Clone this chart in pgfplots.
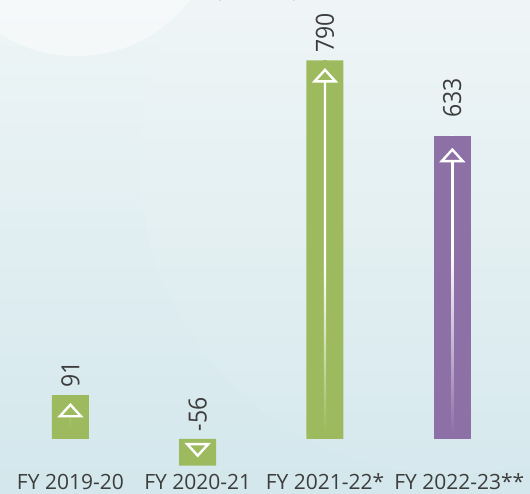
\documentclass[border=0pt]{standalone}
\usepackage{fontspec}
\setmainfont{Open Sans}
\usepackage{graphicx}
\usepackage{pgfplots}
\pgfplotsset{compat=1.18}
\definecolor{barG}{HTML}{9DBB5E}
\definecolor{barP}{HTML}{8D71A6}
\definecolor{txt}{HTML}{3D3D3D}
\definecolor{bgTop}{HTML}{EEF5F6}
\definecolor{bgBot}{HTML}{D3E7EC}
\pgfdeclareverticalshading{lineG}{100bp}{color(0bp)=(barG); color(26bp)=(barG); color(48bp)=(white); color(100bp)=(white)}
\pgfdeclareverticalshading{lineP}{100bp}{color(0bp)=(barP); color(26bp)=(barP); color(56bp)=(white); color(100bp)=(white)}
\pgfdeclareplotmark{nomark}{}
\pgfdeclareplotmark{upG}{%
  \pgfsetfillcolor{barG}%
  \pgfpathrectangle{\pgfpoint{-2pt}{-21pt}}{\pgfpoint{4pt}{21pt}}%
  \pgfusepathqfill
  \pgfsetstrokecolor{white}%
  \pgfsetlinewidth{2.4pt}%
  \pgfpathmoveto{\pgfpoint{0pt}{-9.5pt}}%
  \pgfpathlineto{\pgfpoint{10.5pt}{-21pt}}%
  \pgfpathlineto{\pgfpoint{-10.5pt}{-21pt}}%
  \pgfpathclose
  \pgfusepathqstroke}
\pgfdeclareplotmark{upP}{%
  \pgfsetfillcolor{barP}%
  \pgfpathrectangle{\pgfpoint{-2pt}{-25.5pt}}{\pgfpoint{4pt}{25.5pt}}%
  \pgfusepathqfill
  \pgfsetstrokecolor{white}%
  \pgfsetlinewidth{2.4pt}%
  \pgfpathmoveto{\pgfpoint{0pt}{-14pt}}%
  \pgfpathlineto{\pgfpoint{10.5pt}{-25.5pt}}%
  \pgfpathlineto{\pgfpoint{-10.5pt}{-25.5pt}}%
  \pgfpathclose
  \pgfusepathqstroke}
\pgfdeclareplotmark{downG}{%
  \pgfsetstrokecolor{white}%
  \pgfsetlinewidth{2.4pt}%
  \pgfpathmoveto{\pgfpoint{0pt}{10pt}}%
  \pgfpathlineto{\pgfpoint{10.5pt}{21.5pt}}%
  \pgfpathlineto{\pgfpoint{-10.5pt}{21.5pt}}%
  \pgfpathclose
  \pgfusepathqstroke}
\newcommand\valfont{\fontsize{25}{28}\selectfont}
\newcommand\tickfont{\fontsize{21}{24}\selectfont}
\begin{document}
\begin{tikzpicture}[x=1pt,y=1pt]
\useasboundingbox (0,0) rectangle (530,494);
\shade[top color=bgTop, bottom color=bgBot] (0,0) rectangle (530,494);
\fill[white, opacity=0.07] (450,330) circle (310);
\fill[white, opacity=0.45] (76.5,580.4) circle (142.6);
\node[anchor=base, font=\fontsize{20}{24}\selectfont, text=txt, inner sep=0pt] at (257,496) {(in crore)};
\begin{axis}[
  at={(0pt,0pt)}, anchor=south west,
  x=127.3pt, y=0.479pt,
  xmin=-0.553, xmax=3.610, ymin=-115.2, ymax=916,
  axis line style={draw=none},
  major tick length=0pt,
  ytick=\empty,
  xtick={0,1,2,3},
  xticklabels={FY 2019-20, FY 2020-21, FY 2021-22*, \hspace*{14pt}FY 2022-23**},
  xticklabel style={anchor=base, yshift=4.5pt, font=\tickfont, text=txt, inner sep=0pt},
  clip=false,
]
\addplot[ybar, bar width=37pt, bar shift=0pt, fill=barG, draw=none] coordinates {(0,91) (1,-56) (2,790)};
\addplot[ybar, bar width=37pt, bar shift=0pt, fill=barP, draw=none] coordinates {(3,633)};
\addplot[ybar, bar width=2.2pt, bar shift=0pt, draw=none, shading=lineG] coordinates {(0,91) (2,790)};
\addplot[ybar, bar width=2.2pt, bar shift=0pt, draw=none, shading=lineP] coordinates {(3,633)};
\addplot[only marks, mark=upG] coordinates {(0,91) (2,790)};
\addplot[only marks, mark=downG] coordinates {(1,-56)};
\addplot[only marks, mark=upP] coordinates {(3,633)};
\addplot[only marks, mark=nomark,
  point meta=explicit symbolic,
  nodes near coords={\scalebox{0.92}[1]{\pgfplotspointmeta}},
  nodes near coords align={anchor=west},
  every node near coord/.style={yshift=7.5pt, rotate=90, anchor=west, inner sep=0pt, text=txt, font=\valfont}]
  coordinates {(0,91)[91] (1,0)[-56] (2,790)[790]};
\addplot[only marks, mark=nomark,
  point meta=explicit symbolic,
  nodes near coords={\scalebox{0.92}[1]{\pgfplotspointmeta}},
  nodes near coords align={anchor=west},
  every node near coord/.style={yshift=17.5pt, rotate=90, anchor=west, inner sep=0pt, text=txt, font=\valfont}]
  coordinates {(3,633)[633]};
\end{axis}
\end{tikzpicture}
\end{document}
